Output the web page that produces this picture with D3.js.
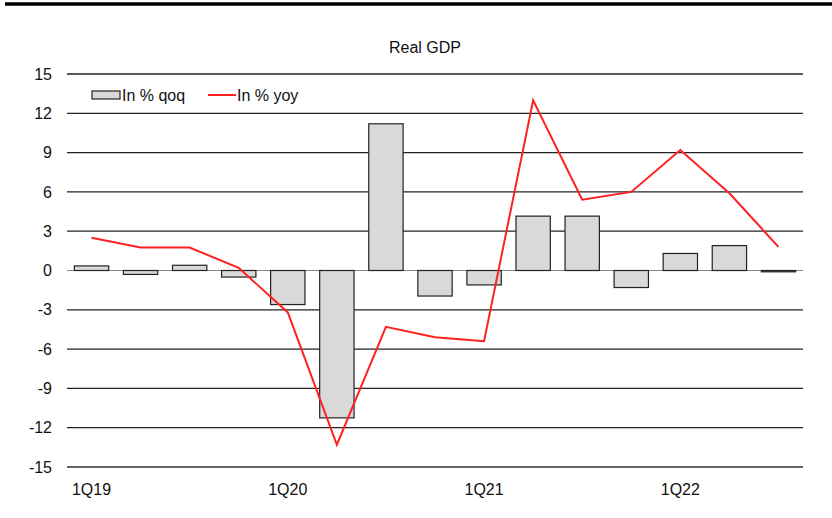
<!DOCTYPE html>
<html>
<head>
<meta charset="utf-8">
<script src="https://cdn.jsdelivr.net/npm/d3@7"></script>
<style>
  body { margin: 0; background: #fff; }
  svg { display: block; font-family: "Liberation Sans", Arial, sans-serif; }
</style>
</head>
<body>
<div class="chart"></div>
<script>
// quarters 1Q19 .. 3Q22
const quarters = ["1Q19", "2Q19", "3Q19", "4Q19", "1Q20", "2Q20", "3Q20", "4Q20",
  "1Q21", "2Q21", "3Q21", "4Q21", "1Q22", "2Q22", "3Q22"];
const qoq = [0.35, -0.3, 0.4, -0.5, -2.6, -11.25, 11.2, -1.95, -1.1, 4.15, 4.15, -1.3, 1.3, 1.9, -0.1];
const yoy = [2.5, 1.75, 1.75, 0.2, -3.2, -13.3, -4.3, -5.1, -5.4, 13.0, 5.4, 6.0, 9.2, 5.9, 1.8];
const yTicks = [-15, -12, -9, -6, -3, 0, 3, 6, 9, 12, 15];
const xLabels = ["1Q19", "1Q20", "1Q21", "1Q22"];

const W = 832, H = 518;
const margin = { top: 74, right: 29, bottom: 51, left: 67 };
const width = W - margin.left - margin.right,
  height = H - margin.top - margin.bottom;
const fs = 16;

const root = d3.select(".chart").append("svg").attr("width", W).attr("height", H);

// heavy rule on top
root.append("line")
  .attr("x1", 5).attr("x2", W).attr("y1", 4).attr("y2", 4)
  .attr("stroke", "#000").attr("stroke-width", 3.5);

root.append("text")
  .attr("x", 425).attr("y", 53)
  .attr("text-anchor", "middle")
  .attr("font-size", fs).attr("fill", "#111")
  .text("Real GDP");

const svg = root.append("g")
  .attr("transform", "translate(" + margin.left + "," + margin.top + ")");

const x = d3.scaleBand().domain(quarters).range([0, width]).paddingInner(0.3).paddingOuter(0.15);
const y = d3.scaleLinear().domain([-15, 15]).range([height, 0]);

// grid lines
svg.selectAll(".grid")
  .data(yTicks)
  .enter()
  .append("line")
  .attr("x1", 0).attr("x2", width)
  .attr("y1", (d) => y(d)).attr("y2", (d) => y(d))
  .attr("stroke", (d) => (d === 0 ? "#888" : d === -15 ? "#666" : "#222"))
  .attr("stroke-width", (d) => (d === -15 ? 2 : d === 0 ? 1 : 1.3));

// y labels
svg.selectAll(".ylab")
  .data(yTicks)
  .enter()
  .append("text")
  .attr("x", -15)
  .attr("y", (d) => y(d))
  .attr("dy", "0.35em")
  .attr("text-anchor", "end")
  .attr("font-size", fs).attr("fill", "#111")
  .text((d) => d);

// x labels
svg.selectAll(".xlab")
  .data(xLabels)
  .enter()
  .append("text")
  .attr("x", (d) => x(d) + x.bandwidth() / 2)
  .attr("y", height + 28)
  .attr("text-anchor", "middle")
  .attr("font-size", fs).attr("fill", "#111")
  .text((d) => d);

// bars
svg.selectAll(".bar")
  .data(quarters)
  .enter()
  .append("rect")
  .attr("x", (d) => x(d))
  .attr("width", x.bandwidth())
  .attr("y", (d, i) => y(Math.max(0, qoq[i])))
  .attr("height", (d, i) => Math.abs(y(qoq[i]) - y(0)))
  .attr("fill", "#d9d9d9")
  .attr("stroke", "#222")
  .attr("stroke-width", 1.2);

// yoy line
const line = d3.line()
  .x((d, i) => x(quarters[i]) + x.bandwidth() / 2)
  .y((d) => y(d));

svg.append("path")
  .datum(yoy)
  .attr("fill", "none")
  .attr("stroke", "#ff2020")
  .attr("stroke-width", 2)
  .attr("d", line);

// legend
const lg = svg.append("g").attr("transform", "translate(25,21)");
lg.append("rect")
  .attr("x", 0).attr("y", -4).attr("width", 28).attr("height", 8)
  .attr("fill", "#d9d9d9").attr("stroke", "#222").attr("stroke-width", 1.2);
lg.append("text")
  .attr("x", 30).attr("y", 0).attr("dy", "0.35em")
  .attr("font-size", fs).attr("fill", "#111")
  .text("In % qoq");
lg.append("line")
  .attr("x1", 116).attr("x2", 144).attr("y1", 0).attr("y2", 0)
  .attr("stroke", "#ff2020").attr("stroke-width", 2);
lg.append("text")
  .attr("x", 145).attr("y", 0).attr("dy", "0.35em")
  .attr("font-size", fs).attr("fill", "#111")
  .text("In % yoy");
</script>
</body>
</html>
